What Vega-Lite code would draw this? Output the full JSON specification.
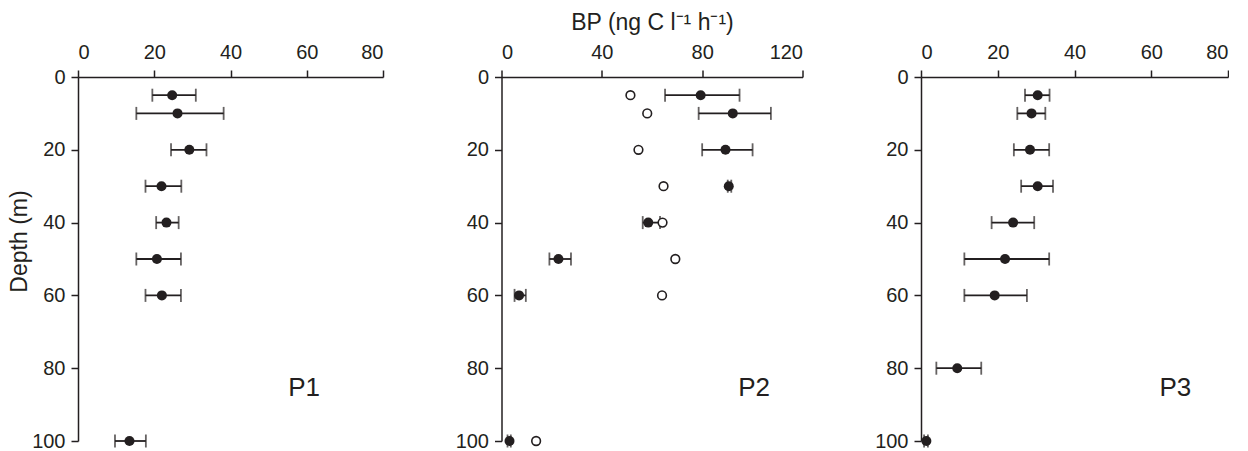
{
  "$schema": "https://vega.github.io/schema/vega-lite/v6.json",
  "background": "white",
  "padding": {"left": 8, "top": 11, "right": 0, "bottom": 0},
  "spacing": 118.5,
  "bounds": "flush",
  "config": {
    "view": {"stroke": null},
    "font": "Liberation Sans",
    "axis": {
      "grid": false,
      "domainColor": "#231f20", "domainWidth": 1.5,
      "tickColor": "#231f20", "tickWidth": 1.5, "tickSize": 7,
      "labelFont": "Liberation Sans", "labelFontSize": 20, "labelColor": "#231f20",
      "titleFont": "Liberation Sans", "titleFontSize": 23, "titleFontWeight": "normal", "titleColor": "#231f20"
    }
  },
  "datasets": {
    "p1": [
      {"depth": 5, "bp": 24.7, "lo": 19.5, "hi": 30.9},
      {"depth": 10, "bp": 26.1, "lo": 15.3, "hi": 38.2},
      {"depth": 20, "bp": 29.2, "lo": 24.4, "hi": 33.7},
      {"depth": 30, "bp": 21.9, "lo": 17.7, "hi": 27.1},
      {"depth": 40, "bp": 23.2, "lo": 20.5, "hi": 26.4},
      {"depth": 50, "bp": 20.7, "lo": 15.3, "hi": 27.0},
      {"depth": 60, "bp": 22.0, "lo": 17.7, "hi": 27.0},
      {"depth": 100, "bp": 13.5, "lo": 9.7, "hi": 17.8}
    ],
    "p2": [
      {"depth": 5, "bp": 79.4, "lo": 65.2, "hi": 94.9},
      {"depth": 10, "bp": 92.2, "lo": 78.6, "hi": 107.4},
      {"depth": 20, "bp": 89.3, "lo": 80.0, "hi": 100.1},
      {"depth": 30, "bp": 90.6, "lo": 90.2, "hi": 91.6},
      {"depth": 40, "bp": 58.5, "lo": 56.3, "hi": 63.2},
      {"depth": 50, "bp": 22.7, "lo": 19.1, "hi": 27.7},
      {"depth": 60, "bp": 7.0, "lo": 5.2, "hi": 9.7},
      {"depth": 100, "bp": 3.2, "lo": 2.4, "hi": 3.7}
    ],
    "p2open": [
      {"depth": 5, "bp": 51.4},
      {"depth": 10, "bp": 58.1},
      {"depth": 20, "bp": 54.6},
      {"depth": 30, "bp": 64.6},
      {"depth": 40, "bp": 64.2},
      {"depth": 50, "bp": 69.3},
      {"depth": 60, "bp": 64.0},
      {"depth": 100, "bp": 13.8}
    ],
    "p3": [
      {"depth": 5, "bp": 30.4, "lo": 27.1, "hi": 33.5},
      {"depth": 10, "bp": 28.8, "lo": 25.1, "hi": 32.4},
      {"depth": 20, "bp": 28.4, "lo": 24.2, "hi": 33.4},
      {"depth": 30, "bp": 30.4, "lo": 26.1, "hi": 34.4},
      {"depth": 40, "bp": 24.0, "lo": 18.4, "hi": 29.5},
      {"depth": 50, "bp": 21.9, "lo": 11.3, "hi": 33.4},
      {"depth": 60, "bp": 19.2, "lo": 11.3, "hi": 27.6},
      {"depth": 80, "bp": 9.45, "lo": 4.0, "hi": 15.7},
      {"depth": 100, "bp": 1.4, "lo": 0.8, "hi": 1.8}
    ],
    "labels": [
      {"panel": "P1", "x": 59.3, "depth": 85.4},
      {"panel": "P2", "x": 100.7, "depth": 85.4},
      {"panel": "P3", "x": 66.3, "depth": 85.4}
    ]
  },
  "hconcat": [
    {
      "width": 305, "height": 364,
      "encoding": {
        "y": {"field": "depth", "type": "quantitative", "scale": {"domain": [0, 100], "reverse": true, "nice": false},
              "axis": {"values": [0, 20, 40, 60, 80, 100], "title": "Depth (m)", "titlePadding": 0, "titleY": 164, "labelPadding": 6}}
      },
      "layer": [
        {"data": {"name": "p1"}, "mark": {"type": "rule", "color": "#231f20", "strokeWidth": 1.8},
         "encoding": {"x": {"field": "lo", "type": "quantitative", "scale": {"domain": [0, 80], "nice": false},
                            "axis": {"orient": "top", "values": [0, 20, 40, 60, 80], "title": null, "labelPadding": 8}},
                      "x2": {"field": "hi"}}},
        {"data": {"name": "p1"}, "mark": {"type": "tick", "orient": "vertical", "color": "#231f20", "size": 13, "thickness": 1.8},
         "encoding": {"x": {"field": "lo", "type": "quantitative"}}},
        {"data": {"name": "p1"}, "mark": {"type": "tick", "orient": "vertical", "color": "#231f20", "size": 13, "thickness": 1.8},
         "encoding": {"x": {"field": "hi", "type": "quantitative"}}},
        {"data": {"name": "p1"}, "mark": {"type": "point", "filled": true, "color": "#231f20", "size": 100, "opacity": 1},
         "encoding": {"x": {"field": "bp", "type": "quantitative"}}},
        {"data": {"name": "labels"}, "transform": [{"filter": "datum.panel == 'P1'"}],
         "mark": {"type": "text", "fontSize": 26, "color": "#231f20", "align": "center", "baseline": "middle", "font": "Liberation Sans"},
         "encoding": {"x": {"field": "x", "type": "quantitative"}, "text": {"field": "panel"}}}
      ]
    },
    {
      "width": 301, "height": 364,
      "encoding": {
        "y": {"field": "depth", "type": "quantitative", "scale": {"domain": [0, 100], "reverse": true, "nice": false},
              "axis": {"values": [0, 20, 40, 60, 80, 100], "title": null, "labelPadding": 6}}
      },
      "layer": [
        {"data": {"name": "p2"}, "mark": {"type": "rule", "color": "#231f20", "strokeWidth": 1.8},
         "encoding": {"x": {"field": "lo", "type": "quantitative", "scale": {"domain": [0, 120], "nice": false},
                            "axis": {"orient": "top", "values": [0, 40, 80, 120], "title": "BP (ng C l⁻¹ h⁻¹)", "titlePadding": 8, "labelPadding": 8}},
                      "x2": {"field": "hi"}}},
        {"data": {"name": "p2"}, "mark": {"type": "tick", "orient": "vertical", "color": "#231f20", "size": 13, "thickness": 1.8},
         "encoding": {"x": {"field": "lo", "type": "quantitative"}}},
        {"data": {"name": "p2"}, "mark": {"type": "tick", "orient": "vertical", "color": "#231f20", "size": 13, "thickness": 1.8},
         "encoding": {"x": {"field": "hi", "type": "quantitative"}}},
        {"data": {"name": "p2open"}, "mark": {"type": "point", "filled": false, "color": "#231f20", "size": 75, "strokeWidth": 1.6, "opacity": 1, "fill": "white"},
         "encoding": {"x": {"field": "bp", "type": "quantitative"}}},
        {"data": {"name": "p2"}, "mark": {"type": "point", "filled": true, "color": "#231f20", "size": 100, "opacity": 1},
         "encoding": {"x": {"field": "bp", "type": "quantitative"}}},
        {"data": {"name": "labels"}, "transform": [{"filter": "datum.panel == 'P2'"}],
         "mark": {"type": "text", "fontSize": 26, "color": "#231f20", "align": "center", "baseline": "middle", "font": "Liberation Sans"},
         "encoding": {"x": {"field": "x", "type": "quantitative"}, "text": {"field": "panel"}}}
      ]
    },
    {
      "width": 307, "height": 364,
      "encoding": {
        "y": {"field": "depth", "type": "quantitative", "scale": {"domain": [0, 100], "reverse": true, "nice": false},
              "axis": {"values": [0, 20, 40, 60, 80, 100], "title": null, "labelPadding": 6}}
      },
      "layer": [
        {"data": {"name": "p3"}, "mark": {"type": "rule", "color": "#231f20", "strokeWidth": 1.8},
         "encoding": {"x": {"field": "lo", "type": "quantitative", "scale": {"domain": [0, 80], "nice": false},
                            "axis": {"orient": "top", "values": [0, 20, 40, 60, 80], "title": null, "labelPadding": 8}},
                      "x2": {"field": "hi"}}},
        {"data": {"name": "p3"}, "mark": {"type": "tick", "orient": "vertical", "color": "#231f20", "size": 13, "thickness": 1.8},
         "encoding": {"x": {"field": "lo", "type": "quantitative"}}},
        {"data": {"name": "p3"}, "mark": {"type": "tick", "orient": "vertical", "color": "#231f20", "size": 13, "thickness": 1.8},
         "encoding": {"x": {"field": "hi", "type": "quantitative"}}},
        {"data": {"name": "p3"}, "mark": {"type": "point", "filled": true, "color": "#231f20", "size": 100, "opacity": 1},
         "encoding": {"x": {"field": "bp", "type": "quantitative"}}},
        {"data": {"name": "labels"}, "transform": [{"filter": "datum.panel == 'P3'"}],
         "mark": {"type": "text", "fontSize": 26, "color": "#231f20", "align": "center", "baseline": "middle", "font": "Liberation Sans"},
         "encoding": {"x": {"field": "x", "type": "quantitative"}, "text": {"field": "panel"}}}
      ]
    }
  ]
}
